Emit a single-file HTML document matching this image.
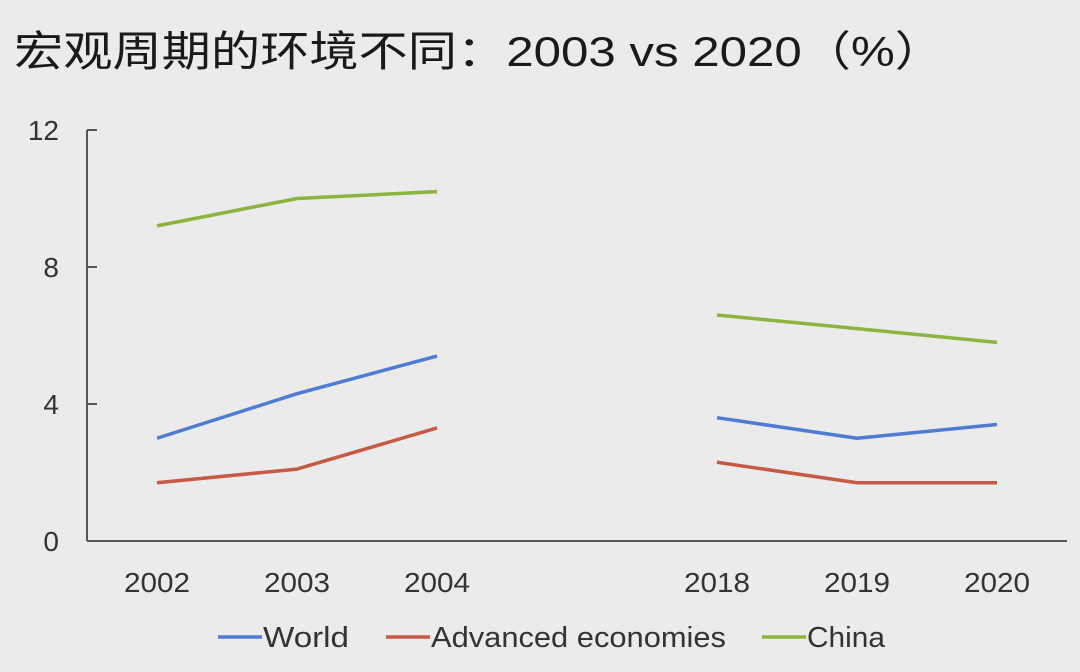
<!DOCTYPE html>
<html><head><meta charset="utf-8">
<style>
body{margin:0;background:#ebebeb;}
svg{display:block;font-family:"Liberation Sans","Noto Sans CJK SC",sans-serif;}
</style></head>
<body>
<svg id="chart" width="1080" height="672" viewBox="0 0 1080 672">
<rect width="1080" height="672" fill="#ebebeb"/>
<text x="14" y="66" font-size="42" fill="#1a1a1a" textLength="930" lengthAdjust="spacingAndGlyphs">宏观周期的环境不同：2003 vs 2020（%）</text>
<g id="axes"></g>
<g id="series"></g>
<g id="legend"></g>
</svg>
<script>
const categories = ["2002","2003","2004","","2018","2019","2020"];
const world = [3.0,4.3,5.4,null,3.6,3.0,3.4];
const advanced = [1.7,2.1,3.3,null,2.3,1.7,1.7];
const china = [9.2,10.0,10.2,null,6.6,6.2,5.8];
const yTicks = [0,4,8,12];
const seriesNames = ["World","Advanced economies","China"];

const NS="http://www.w3.org/2000/svg";
const x0=87, slot=140, yBase=541, yTop=130, yMax=12;
const xs=i=>x0+slot*(i+0.5);
const ys=v=>yBase-(v/yMax)*(yBase-yTop);
function mk(tag,attrs,parent){const e=document.createElementNS(NS,tag);for(const k in attrs)e.setAttribute(k,attrs[k]);parent.appendChild(e);return e;}
const axes=document.getElementById('axes');
const yAxis=mk('line',{x1:x0,y1:ys(yMax),x2:x0,y2:yBase,stroke:'#555','stroke-width':2},axes);


const xAxis=mk('line',{x1:x0,y1:yBase,x2:x0+slot*categories.length,y2:yBase,stroke:'#555','stroke-width':2},axes);


yTicks.forEach(t=>{
  const tk=mk('line',{x1:x0,y1:ys(t),x2:x0+10,y2:ys(t),stroke:'#555','stroke-width':2},axes);
  
  
  const lb=mk('text',{x:x0-28,y:ys(t)+10,'font-size':28,fill:'#333','text-anchor':'end'},axes);
  lb.textContent=t;
  
  
});
categories.forEach((c,i)=>{
  if(!c)return;
  const lb=mk('text',{x:xs(i),y:592,'font-size':28,fill:'#333','text-anchor':'middle',textLength:66,lengthAdjust:'spacingAndGlyphs'},axes);
  lb.textContent=c;
  
  
});
const colors=["#4f7bd1","#c65a47","#8cb43f"];
const sg=document.getElementById('series');
[world,advanced,china].forEach((s,k)=>{
  let segs=[],cur=[];
  s.forEach((v,i)=>{if(v==null){if(cur.length)segs.push(cur);cur=[];}else cur.push(xs(i)+','+ys(v));});
  if(cur.length)segs.push(cur);
  segs.forEach(sgm=>{
    const p=mk('polyline',{points:sgm.join(' '),fill:'none',stroke:colors[k],'stroke-width':3.5,'stroke-linejoin':'round'},sg);
    
    
  });
});
const lg=document.getElementById('legend');
const lx=[218,386,762];
const tl=[86,295,78];
seriesNames.forEach((n,k)=>{
  const l=mk('line',{x1:lx[k],y1:637,x2:lx[k]+44,y2:637,stroke:colors[k],'stroke-width':3.5},lg);
  
  
  const t=mk('text',{x:lx[k]+45,y:647,'font-size':29,fill:'#333',textLength:tl[k],lengthAdjust:'spacingAndGlyphs'},lg);
  t.textContent=n;
  
  
});
</script>
</body></html>
